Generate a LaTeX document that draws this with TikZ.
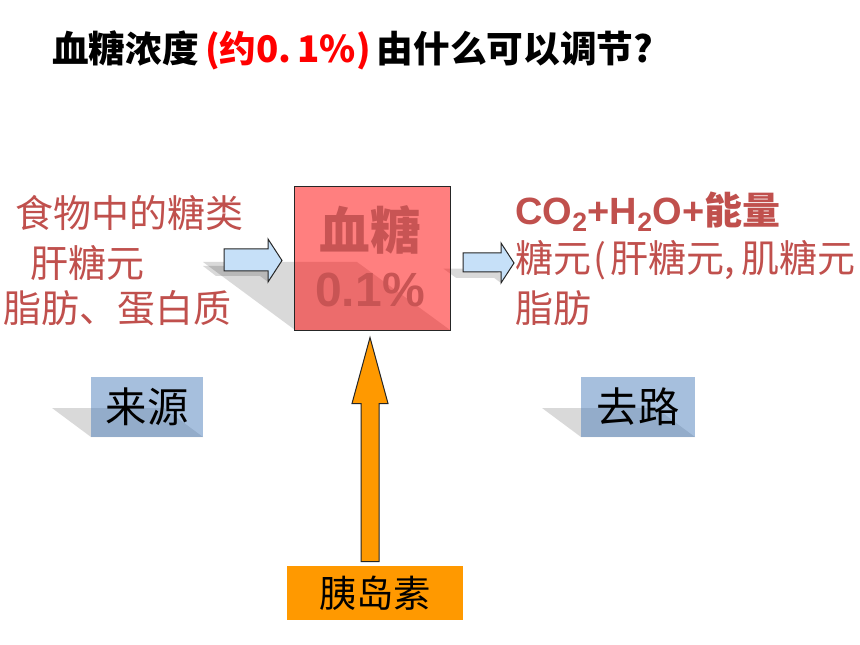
\documentclass[tikz,border=0pt]{standalone}
\usepackage{fontspec}
\setmainfont{Liberation Sans}
\newfontfamily\cjk{Noto Sans CJK SC}
\usetikzlibrary{calc}

\definecolor{textred}{RGB}{192,80,77}
\definecolor{titlered}{RGB}{255,0,0}
\definecolor{boxred}{RGB}{255,0,0}
\definecolor{boxtext}{RGB}{200,84,84}
\definecolor{labelblue}{RGB}{79,129,189}
\definecolor{arrowblue}{RGB}{198,224,248}
\definecolor{insulinorange}{RGB}{255,153,0}

\tikzset{
    shadowfill/.style={fill=black, fill opacity=0.15},
    blockarrow/.style={draw=black!85, line width=0.75pt, line join=miter},
    sidetext/.style={anchor=west, inner sep=0pt, text=textred, font=\cjk\fontsize{28.5}{30}\selectfont},
    labelbox/.style={fill=labelblue, fill opacity=0.5, text opacity=1, inner sep=0pt, minimum height=45pt, font=\cjk\fontsize{31}{32}\selectfont}
}

\begin{document}
\begin{tikzpicture}[x=0.75pt, y=-0.75pt]
    \useasboundingbox (0,0) rectangle (860,645);
    \fill[white] (0,0) rectangle (860,645);

    \node[anchor=west, inner sep=0pt, font=\cjk\bfseries\fontsize{27.5}{30}\selectfont] (title) at (52,50) {血糖浓度\,\textcolor{titlered}{(约0.\,1\%)}\,由什么可以调节?};

    % shadows
    \fill[shadowfill] (203,262) -- (357,262) -- (450,330) -- (295,330) -- cycle;
    \fill[shadowfill] (203,266) -- (247,266) -- (240,261.5) -- (268,272) -- (268,282) -- (260,276) -- (216,276) -- cycle;
    \fill[shadowfill] (443.5,268.7) -- (481.5,268.7) -- (475,264) -- (501,273.5) -- (501,283) -- (494,277.8) -- (456,277.8) -- cycle;
    \fill[shadowfill] (52,408) -- (164,408) -- (203,437) -- (91,437) -- cycle;
    \fill[shadowfill] (542,408) -- (656,408) -- (695,437) -- (581,437) -- cycle;

    \node[draw=black!85, line width=0.75pt, fill=boxred, fill opacity=0.5, draw opacity=1, minimum width=117pt, minimum height=107.25pt, inner sep=0pt] (blood) at (372,258.5) {};
    \node[inner sep=0pt, text=boxtext, font=\cjk\bfseries\fontsize{38}{40}\selectfont] (bloodname) at (370,230) {血糖};
    \node[inner sep=0pt, text=boxtext, font=\bfseries\fontsize{36}{40}\selectfont] (bloodvalue) at (370,290) {0.1\%};

    \draw[blockarrow, fill=arrowblue] (224,249) -- (268,249) -- (268,239) -- (282,260.5) -- (268,282) -- (268,271) -- (224,271) -- cycle;
    \draw[blockarrow, fill=arrowblue] (463,253) -- (501,253) -- (501,243) -- (514,263) -- (501,283) -- (501,272) -- (463,272) -- cycle;

    \node[sidetext] (food) at (15,213) {食物中的糖类};
    \node[sidetext] (liver) at (30,263) {肝糖元};
    \node[sidetext] (protein) at (3,308) {脂肪、蛋白质};

    \node[sidetext] (energy) at (515,212) {{\rmfamily\bfseries CO\textsubscript{2}+H\textsubscript{2}O+}{\bfseries 能量}};
    \node[sidetext] (glycogen) at (515,260) {糖元\hspace{2pt}(\hspace{3pt}肝糖元,\hspace{5pt}肌糖元};
    \node[sidetext] (fat) at (515,308) {脂肪};

    \node[labelbox, minimum width=84pt] (source) at (147,407) {来源};
    \node[labelbox, minimum width=85.5pt] (sink) at (638,407) {去路};

    \node[fill=insulinorange, minimum width=132pt, minimum height=40.5pt, inner sep=0pt, font=\cjk\fontsize{28}{30}\selectfont] (insulin) at (375,593) {胰岛素};

    % insulin arrow
    \coordinate (rise) at ($(blood.south)+(-2,7)$);
    \coordinate (base) at ($(insulin.north)+(-5,-4)$);
    \draw[blockarrow, fill=insulinorange] ($(base)+(-9,0)$) -- ($(rise)+(-9,66)$) -- ($(rise)+(-18,66)$) -- (rise) -- ($(rise)+(18,66)$) -- ($(rise)+(9,66)$) -- ($(base)+(9,0)$) -- cycle;
\end{tikzpicture}
\end{document}
